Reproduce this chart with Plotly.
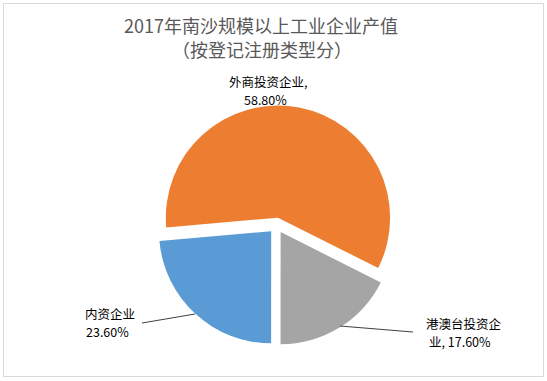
import plotly.graph_objects as go

# Data
categories = ["外商投资企业", "港澳台投资企业", "内资企业"]
values = [58.80, 17.60, 23.60]
colors = ["#ED7D31", "#A5A5A5", "#5B9BD5"]
title_lines = ["2017年南沙规模以上工业企业产值", "（按登记注册类型分）"]

W, H = 547, 381
def px(x):
    return x / W
def py(y):
    return 1 - y / H

fig = go.Figure()
fig.add_trace(go.Pie(
    labels=categories,
    values=values,
    sort=False,
    direction="clockwise",
    rotation=-95,
    pull=[0.07, 0.07, 0.07],
    marker=dict(colors=colors, line=dict(width=0)),
    textinfo="none",
    hoverinfo="label+percent",
    showlegend=False,
    domain=dict(x=[px(156.5), px(396.5)], y=[py(345.4), py(105.4)]),
))

pct = [f"{v:.2f}%" for v in values]
# each label split into the lines shown in the chart
label_lines = [
    [f"{categories[0]},", pct[0]],
    [categories[1][:6], f"{categories[1][6:]}, {pct[1]}"],
    [categories[2], pct[2]],
]
label_pos = [
    [(267.5, 81.5), (265, 99.5)],
    [(463.5, 323.5), (460, 341.5)],
    [(110, 313.5), (107.5, 331.5)],
]

annotations = []
title_pos = [(261, 25.5), (262, 48.5)]
for t, (x, y) in zip(title_lines, title_pos):
    annotations.append(dict(text=t, x=px(x), y=py(y), xref="paper", yref="paper",
                            xanchor="center", yanchor="middle", showarrow=False,
                            font=dict(family="Noto Sans CJK SC", size=18, color="#595959")))
for lines, poss in zip(label_lines, label_pos):
    for t, (x, y) in zip(lines, poss):
        annotations.append(dict(text=t, x=px(x), y=py(y), xref="paper", yref="paper",
                                xanchor="center", yanchor="middle", showarrow=False,
                                font=dict(family="Noto Sans CJK SC", size=12.5, color="#000000")))

shapes = [
    dict(type="rect", xref="paper", yref="paper", x0=px(3.5), x1=px(543.5), y0=py(376.5), y1=py(3.5),
         line=dict(color="#D9D9D9", width=1), fillcolor="rgba(0,0,0,0)", layer="above"),
    dict(type="line", xref="paper", yref="paper", x0=px(142), y0=py(323), x1=px(195), y1=py(314),
         line=dict(color="#404040", width=1)),
    dict(type="line", xref="paper", yref="paper", x0=px(340), y0=py(326), x1=px(413), y1=py(332),
         line=dict(color="#404040", width=1)),
]

fig.update_layout(
    width=W, height=H,
    margin=dict(l=0, r=0, t=0, b=0),
    paper_bgcolor="white",
    plot_bgcolor="white",
    annotations=annotations,
    shapes=shapes,
)

fig.write_html("out.html",
               config={"displayModeBar": False},
               post_script="document.body.style.margin='0';document.body.style.overflow='hidden';")
